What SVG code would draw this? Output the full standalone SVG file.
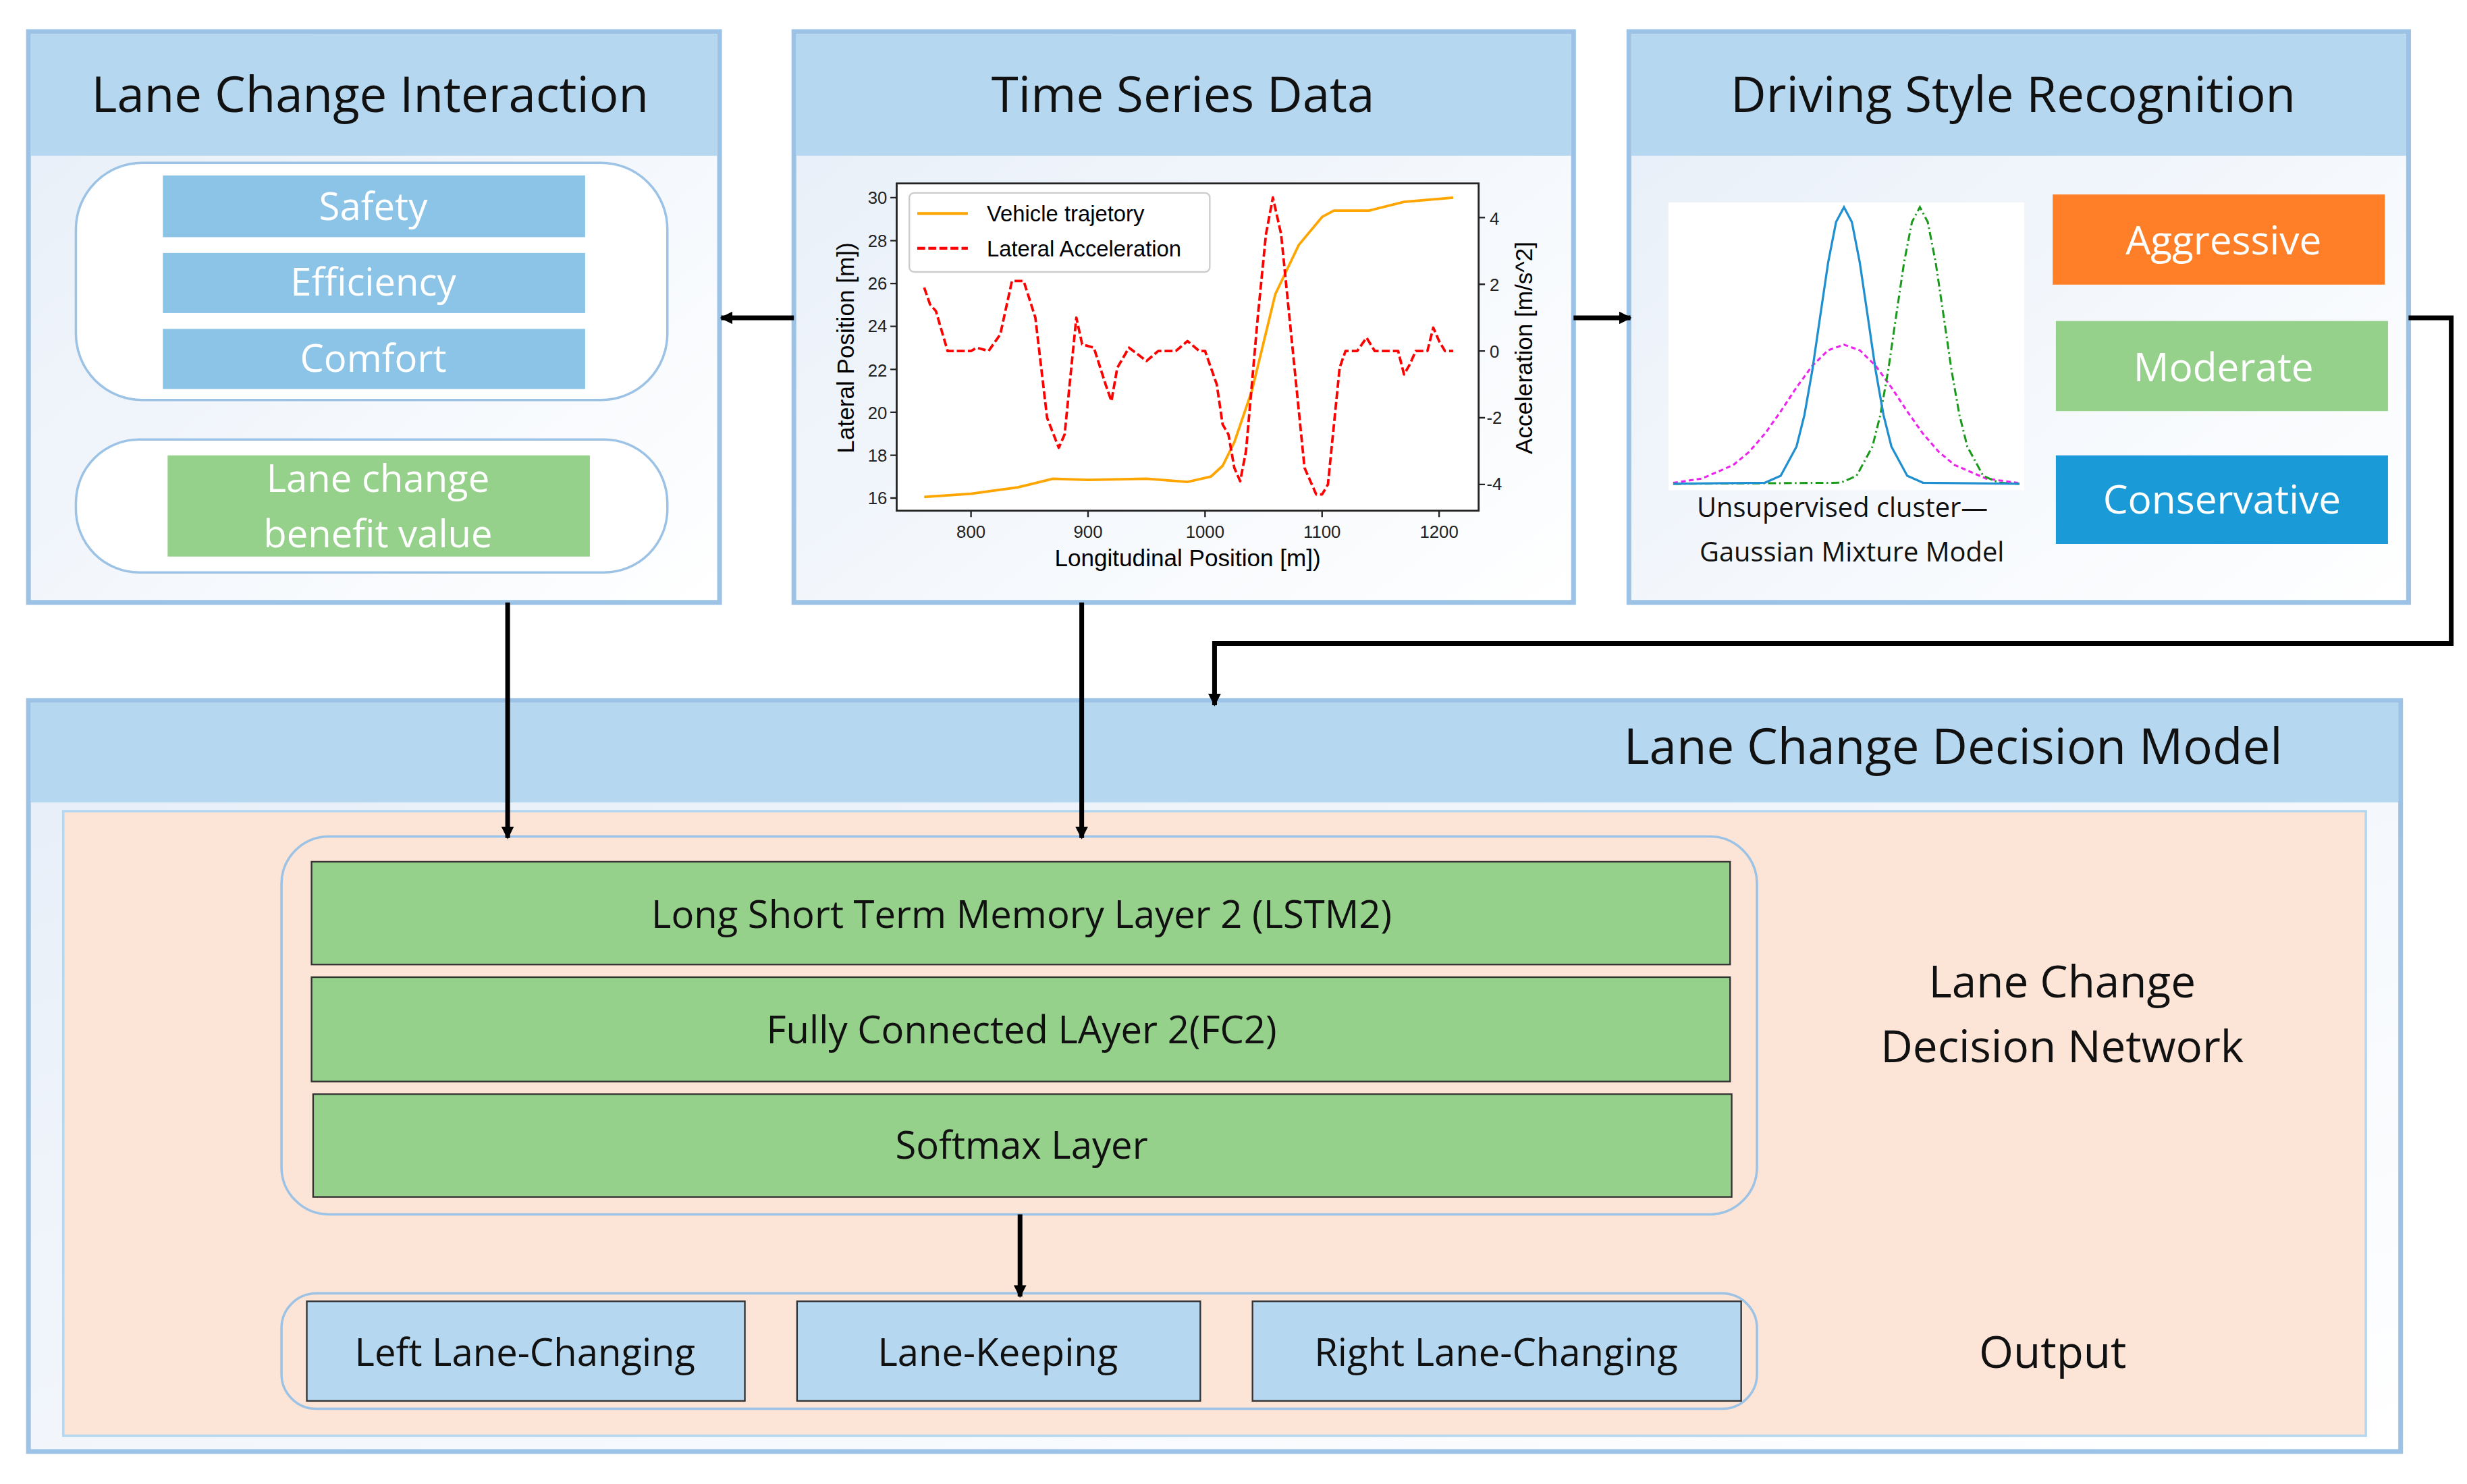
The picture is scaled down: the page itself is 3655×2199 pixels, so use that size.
<svg xmlns="http://www.w3.org/2000/svg" width="3655" height="2199" viewBox="0 0 3655 2199">
<style>
.t{font-family:"Open Sans","Noto Sans","Liberation Sans",sans-serif;text-anchor:middle;fill:#111}
.w{fill:#fff}
.panel{fill:url(#bg);stroke:#9cc3e5;stroke-width:3}
.hdr{fill:#b5d7f0}
.blue{fill:#8cc4e8}
.grn{fill:#95d18a}
.pill{fill:#fff;stroke:#9cc3e5;stroke-width:1.5}
.layer{fill:#95d18a;stroke:#333;stroke-width:1}
.out{fill:#b5d7f0;stroke:#333;stroke-width:1}
.ax{font-family:"Liberation Sans",Arial,sans-serif;font-size:11px;fill:#222}
.conn{stroke:#000;stroke-width:3;fill:none}
</style>
<defs>
<linearGradient id="bg" x1="0" y1="0" x2="1" y2="1"><stop offset="0" stop-color="#e6eef8"/><stop offset="1" stop-color="#ffffff"/></linearGradient>
<marker id="ah" viewBox="0 0 10 10" refX="9" refY="5" markerWidth="8" markerHeight="8" markerUnits="userSpaceOnUse" orient="auto"><path d="M0,0L10,5L0,10z" fill="#000"/></marker>
</defs>
<rect width="3655" height="2199" fill="#fff"/>
<g transform="scale(2.343)">
<g id="lci">
<rect class="panel" x="18" y="20" width="437" height="361"/>
<rect class="hdr" x="19.5" y="21.5" width="434" height="77"/>
<text class="t" x="234" y="71" font-size="31">Lane Change Interaction</text>
<rect class="pill" x="48" y="103" width="374" height="150" rx="42"/>
<rect class="blue" x="103" y="111" width="267" height="39"/>
<text class="t w" x="236" y="139" font-size="24">Safety</text>
<rect class="blue" x="103" y="160" width="267" height="38"/>
<text class="t w" x="236" y="187" font-size="24">Efficiency</text>
<rect class="blue" x="103" y="208" width="267" height="38"/>
<text class="t w" x="236" y="235" font-size="24">Comfort</text>
<rect class="pill" x="48" y="278" width="374" height="84" rx="40"/>
<rect class="grn" x="106" y="288" width="267" height="64"/>
<text class="t w" x="239" y="311" font-size="24">Lane change</text>
<text class="t w" x="239" y="346" font-size="24">benefit value</text>
</g>
<g id="tsd">
<rect class="panel" x="502" y="20" width="493" height="361"/>
<rect class="hdr" x="503.5" y="21.5" width="490" height="77"/>
<text class="t" x="748" y="71" font-size="31">Time Series Data</text>
<rect x="567" y="116" width="368" height="207" fill="#fff" stroke="#222" stroke-width="1.2"/>
<path d="M567,315h-4M567,287.9h-4M567,260.7h-4M567,233.6h-4M567,206.4h-4M567,179.3h-4M567,152.2h-4M567,125h-4M935,137.6h4M935,179.8h4M935,222h4M935,264.2h4M935,306.4h4M614,323v4M688,323v4M762,323v4M836,323v4M910,323v4" stroke="#222" stroke-width="1"/>
<g class="ax" text-anchor="end">
<text x="561" y="319">16</text><text x="561" y="292">18</text><text x="561" y="265">20</text><text x="561" y="238">22</text><text x="561" y="210">24</text><text x="561" y="183">26</text><text x="561" y="156">28</text><text x="561" y="129">30</text>
</g>
<g class="ax">
<text x="942" y="142">4</text><text x="942" y="184">2</text><text x="942" y="226">0</text><text x="940" y="268">-2</text><text x="940" y="310">-4</text>
</g>
<g class="ax" text-anchor="middle">
<text x="614" y="340">800</text><text x="688" y="340">900</text><text x="762" y="340">1000</text><text x="836" y="340">1100</text><text x="910" y="340">1200</text>
</g>
<text font-family="Liberation Sans,Arial,sans-serif" font-size="15" text-anchor="middle" transform="translate(540,220) rotate(-90)">Lateral Position [m])</text>
<text font-family="Liberation Sans,Arial,sans-serif" font-size="15" text-anchor="middle" transform="translate(969,220) rotate(-90)">Acceleration [m/s^2]</text>
<text font-family="Liberation Sans,Arial,sans-serif" font-size="15" text-anchor="middle" x="751" y="358">Longitudinal Position [m])</text>
<path d="M584.4,314.3 L614,312.3 L643.6,308.2 L665.8,302.8 L688,303.5 L725,302.8 L750.9,304.8 L765.7,301.4 L773.1,294.6 L780.5,279.7 L791.6,247.2 L806.4,186.1 L821.2,155 L836,137.2 L843.4,133.2 L865.6,133.2 L887.8,127.7 L918.9,125" fill="none" stroke="#ffa500" stroke-width="1.6"/>
<path d="M584.4,181.9 L588.1,192.5 L591.8,196.7 L599.2,222 L614,222 L617.7,219.9 L625.1,222 L632.5,211.5 L639.9,177.7 L647.3,177.7 L654.7,200.9 L662.1,264.2 L669.5,283.2 L673.2,274.8 L680.6,200.9 L684.3,217.8 L691.7,219.9 L699.1,243.1 L702.8,253.7 L706.5,232.6 L713.9,219.9 L725,228.3 L732.4,222 L743.5,222 L750.9,215.7 L758.3,222 L762,222 L769.4,243.1 L773.1,268.4 L776.8,274.8 L780.5,295.9 L784.2,304.3 L787.9,285.3 L795.3,200.9 L800.5,148.2 L804.9,124.9 L810.1,148.2 L817.5,222 L824.9,295.9 L832.3,312.7 L836,312.7 L839.7,306.4 L847.1,232.6 L850.8,222 L858.2,222 L864.1,213.6 L869.3,222 L884.1,222 L887.8,236.8 L891.5,230.4 L895.2,222 L902.6,222 L906.3,207.2 L910,215.7 L913.7,222 L918.9,222" fill="none" stroke="#ff0000" stroke-width="1.6" stroke-dasharray="5,2" stroke-linejoin="round"/>
<rect x="575" y="122" width="190" height="50" rx="3" fill="#fff" stroke="#ccc" stroke-width="1"/>
<line x1="580" y1="135" x2="612" y2="135" stroke="#ffa500" stroke-width="1.8"/>
<line x1="580" y1="157" x2="612" y2="157" stroke="#ff0000" stroke-width="1.8" stroke-dasharray="5,2"/>
<text font-family="Liberation Sans,Arial,sans-serif" font-size="14" x="624" y="140">Vehicle trajetory</text>
<text font-family="Liberation Sans,Arial,sans-serif" font-size="14" x="624" y="162">Lateral Acceleration</text>
</g>
<g id="dsr">
<rect class="panel" x="1030" y="20" width="493" height="361"/>
<rect class="hdr" x="1031.5" y="21.5" width="490" height="77"/>
<text class="t" x="1273" y="71" font-size="31">Driving Style Recognition</text>
<rect x="1055" y="128" width="225" height="182" fill="#fff"/>
<polyline points="1058,305.4 1076,302.7 1096,294.1 1106,285.8 1116,274.3 1126,260.2 1136,245 1146,231.3 1156,221.5 1166,218 1176,221.5 1186,231.3 1196,245 1206,260.2 1216,274.3 1226,285.8 1236,294.1 1256,302.7 1276,305.4" fill="none" stroke="#ee22ee" stroke-width="1.3" stroke-dasharray="3,2"/>
<polyline points="1058,306 1164,305.3 1174,300.9 1184,282.4 1189,262.4 1194,234.1 1199,199.8 1204,166 1209,140.4 1214,131 1219,140.4 1224,166 1229,199.8 1234,234.1 1239,262.4 1244,282.4 1254,300.9 1264,305.3 1277,306" fill="none" stroke="#1a9a1a" stroke-width="1.3" stroke-dasharray="5,2,1,2"/>
<polyline points="1058,306 1116,305.3 1126,300.9 1136,282.4 1141,262.4 1146,234.1 1151,199.8 1156,166 1161,140.4 1166,131 1171,140.4 1176,166 1181,199.8 1186,234.1 1191,262.4 1196,282.4 1206,300.9 1216,305.3 1277,306" fill="none" stroke="#1f8fcf" stroke-width="1.4"/>
<text class="t" x="1165" y="327" font-size="17">Unsupervised cluster—</text>
<text class="t" x="1171" y="355" font-size="17">Gaussian Mixture Model</text>
<rect x="1298" y="123" width="210" height="57" fill="#fe7f27"/>
<text class="t w" x="1406" y="161" font-size="25">Aggressive</text>
<rect x="1300" y="203" width="210" height="57" fill="#95d18a"/>
<text class="t w" x="1406" y="241" font-size="25">Moderate</text>
<rect x="1300" y="288" width="210" height="56" fill="#1a9ad6"/>
<text class="t w" x="1405" y="325" font-size="25">Conservative</text>
</g>
<g id="lcdm">
<rect class="panel" x="18" y="443" width="1500" height="475"/>
<rect class="hdr" x="19.5" y="444.5" width="1497" height="63"/>
<text class="t" x="1235" y="483" font-size="31">Lane Change Decision Model</text>
<rect x="40" y="513" width="1456" height="395" fill="#fce4d6" stroke="#b5d7f0" stroke-width="1.5"/>
<text class="t" x="1304" y="631" font-size="28">Lane Change</text>
<text class="t" x="1304" y="672" font-size="28">Decision Network</text>
<text class="t" x="1298" y="865" font-size="28">Output</text>
</g>
<g id="network">
<rect x="178" y="529" width="933" height="239" rx="30" fill="none" stroke="#9cc3e5" stroke-width="1.5"/>
<rect class="layer" x="197" y="545" width="897" height="65"/>
<text class="t" x="646" y="587" font-size="24">Long Short Term Memory Layer 2 (LSTM2)</text>
<rect class="layer" x="197" y="618" width="897" height="66"/>
<text class="t" x="646" y="660" font-size="24">Fully Connected LAyer 2(FC2)</text>
<rect class="layer" x="198" y="692" width="897" height="65"/>
<text class="t" x="646" y="733" font-size="24">Softmax Layer</text>
</g>
<g id="output">
<rect x="178" y="818" width="933" height="73" rx="22" fill="none" stroke="#9cc3e5" stroke-width="1.5"/>
<rect class="out" x="194" y="823" width="277" height="63"/>
<text class="t" x="332" y="864" font-size="24">Left Lane-Changing</text>
<rect class="out" x="504" y="823" width="255" height="63"/>
<text class="t" x="631" y="864" font-size="24">Lane-Keeping</text>
<rect class="out" x="792" y="823" width="309" height="63"/>
<text class="t" x="946" y="864" font-size="24">Right Lane-Changing</text>
</g>
<g id="connectors">
<line class="conn" x1="502" y1="201" x2="456" y2="201" marker-end="url(#ah)"/>
<line class="conn" x1="995" y1="201" x2="1031" y2="201" marker-end="url(#ah)"/>
<polyline class="conn" points="1523,201 1550,201 1550,407 768,407 768,446" marker-end="url(#ah)"/>
<line class="conn" x1="321" y1="381" x2="321" y2="530" marker-end="url(#ah)"/>
<line class="conn" x1="684" y1="381" x2="684" y2="530" marker-end="url(#ah)"/>
<line class="conn" x1="645" y1="768" x2="645" y2="820" marker-end="url(#ah)"/>
</g>
</g>
</svg>
